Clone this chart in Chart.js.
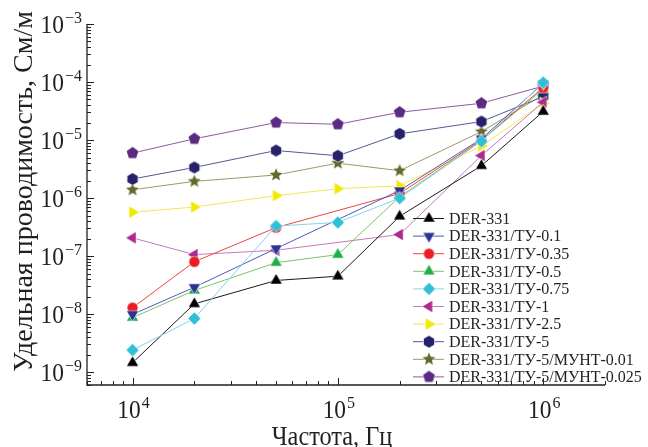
<!DOCTYPE html>
<html>
<head>
<meta charset="utf-8">
<script src="https://cdn.jsdelivr.net/npm/chart.js@4/dist/chart.umd.min.js"></script>
<style>
  html, body { margin: 0; padding: 0; background: #fff; }
  #wrap { width: 648px; height: 447px; }
</style>
</head>
<body>
<div id="wrap"><canvas id="c" width="648" height="447"></canvas></div>
<script>
'use strict';

// частоты, Гц
const frequencies = [1e4, 2e4, 5e4, 1e5, 2e5, 5e5, 1e6];

// удельная проводимость, См/м (null = нет точки)
const der331     = [1.45e-9, 1.5e-8, 3.8e-8, 4.5e-8, 4.85e-7, 3.6e-6, 3.1e-5];
const ty01       = [9.9e-9, 2.9e-8, 1.35e-7, null, 1.35e-6, 1.05e-5, 9.5e-5];
const ty035      = [1.29e-8, 8.0e-8, 3.1e-7, null, 1.2e-6, 1.0e-5, 8.0e-5];
const ty05       = [8.7e-9, 2.56e-8, 7.7e-8, 1.06e-7, 1.05e-6, 9.8e-6, 7.5e-5];
const ty075      = [2.4e-9, 8.4e-9, 3.3e-7, 3.8e-7, 1.0e-6, 9.5e-6, 9.8e-5];
const ty1        = [2.06e-7, 1.06e-7, 1.26e-7, null, 2.35e-7, 5.4e-6, 4.5e-5];
const ty25       = [5.7e-7, 7.0e-7, 1.1e-6, 1.45e-6, 1.63e-6, 7.9e-6, 4.3e-5];
const ty5        = [2.13e-6, 3.37e-6, 6.6e-6, 5.36e-6, 1.28e-5, 2.08e-5, 5.6e-5];
const ty5munt001 = [1.39e-6, 1.94e-6, 2.5e-6, 4.0e-6, 2.96e-6, 1.4e-5, 6.0e-5];
const ty5munt0025= [5.96e-6, 1.05e-5, 2.0e-5, 1.87e-5, 3.01e-5, 4.3e-5, 8.5e-5];

const seriesNames = [
  'DER-331', 'DER-331/ТУ-0.1', 'DER-331/ТУ-0.35', 'DER-331/ТУ-0.5', 'DER-331/ТУ-0.75',
  'DER-331/ТУ-1', 'DER-331/ТУ-2.5', 'DER-331/ТУ-5', 'DER-331/ТУ-5/МУНТ-0.01', 'DER-331/ТУ-5/МУНТ-0.025'
];
const seriesValues = [der331, ty01, ty035, ty05, ty075, ty1, ty25, ty5, ty5munt001, ty5munt0025];

// подписи делений: 10^n
const xTickExps = [4, 5, 6];
const yTickExps = [-9, -8, -7, -6, -5, -4, -3];

const xTitle = 'Частота, Гц';
const yTitle = 'Удельная проводимость, См/м';

/**
 * стиль серий: [маркер, цвет маркера, цвет линии, радиус]
 */
const styles = [
  ['triUp',    '#000000', '#1a1a1a', 6.5],
  ['triDown',  '#2a3593', '#4d5bb5', 6.5],
  ['circle',   '#ec1c24', '#f0443c', 5.2],
  ['triUp',    '#1fae4b', '#7cc46a', 6.5],
  ['diamond',  '#30c0d6', '#85d4e6', 6.2],
  ['triLeft',  '#ad2a8e', '#c878bd', 6.5],
  ['triRight', '#f2e900', '#f0e65c', 6.5],
  ['hexagon',  '#26216b', '#545795', 6],
  ['star',     '#66692c', '#9a9a66', 6.8],
  ['pentagon', '#5b2a82', '#8e5aa2', 6.2],
];

// маркеры рисуем в отдельных canvas
function polygon(g, cx, cy, r, n, startDeg) {
  for (let i = 0; i < n; i++) {
    const a = (startDeg + i * 360 / n) * Math.PI / 180;
    const px = cx + r * Math.cos(a), py = cy + r * Math.sin(a);
    if (i === 0) g.moveTo(px, py); else g.lineTo(px, py);
  }
  g.closePath();
}
function makeMarker(shape, color, r) {
  const s = Math.ceil(r * 2 + 4);
  const c = document.createElement('canvas');
  c.width = s; c.height = s;
  const g = c.getContext('2d');
  const cx = s / 2, cy = s / 2;
  g.beginPath();
  switch (shape) {
    case 'triUp': polygon(g, cx, cy, r, 3, -90); break;
    case 'triDown': polygon(g, cx, cy, r, 3, 90); break;
    case 'triLeft': polygon(g, cx, cy, r, 3, 180); break;
    case 'triRight': polygon(g, cx, cy, r, 3, 0); break;
    case 'diamond': polygon(g, cx, cy, r, 4, -90); break;
    case 'hexagon': polygon(g, cx, cy, r, 6, -90); break;
    case 'pentagon': polygon(g, cx, cy, r, 5, -90); break;
    case 'circle': g.arc(cx, cy, r, 0, Math.PI * 2); break;
    case 'star':
      for (let i = 0; i < 10; i++) {
        const a = (-90 + i * 36) * Math.PI / 180;
        const rr = i % 2 ? r * 0.45 : r;
        const px = cx + rr * Math.cos(a), py = cy + rr * Math.sin(a);
        if (i === 0) g.moveTo(px, py); else g.lineTo(px, py);
      }
      g.closePath();
      break;
  }
  g.strokeStyle = 'rgba(255,255,255,0.9)';
  g.lineWidth = 1.2;
  g.stroke();
  g.fillStyle = color;
  g.fill();
  return c;
}
const markers = styles.map(s => makeMarker(s[0], s[1], s[3]));

const datasets = seriesValues.map((vals, i) => ({
  label: seriesNames[i],
  data: frequencies.map((f, j) => ({ x: f, y: vals[j] })).filter(p => p.y !== null),
  borderColor: styles[i][2],
  backgroundColor: styles[i][1],
  borderWidth: 1,
  pointStyle: markers[i],
  pointRadius: 6,
  tension: 0,
  order: i === 4 ? -1 : 0,
}));

const SERIF = '"Liberation Serif", "DejaVu Serif", serif';
const SX = 0.9; // сжатие подписей осей по горизонтали

// 10^n подпись
function drawPow(ctx, exp, x, y, supDy, align) {
  const base = '10';
  const sup = exp < 0 ? '\u2212' + (-exp) : String(exp);
  ctx.font = '26px ' + SERIF;
  const wb = ctx.measureText(base).width * SX;
  ctx.font = '16px ' + SERIF;
  const ws = ctx.measureText(sup).width;
  const total = wb + ws + 1;
  const x0 = align === 'right' ? x - total : x - total / 2;
  ctx.textAlign = 'left';
  ctx.textBaseline = 'alphabetic';
  ctx.save();
  ctx.translate(x0, y);
  ctx.scale(SX, 1);
  ctx.font = '26px ' + SERIF;
  ctx.fillText(base, 0, 0);
  ctx.restore();
  ctx.font = '16px ' + SERIF;
  ctx.fillText(sup, x0 + wb + 1, y - supDy);
}

/**
 * оси: линии, засечки внутрь, подписи
 */
const axesPlugin = {
  id: 'axesPlugin',
  afterDatasetsDraw(chart) {
    const { ctx, chartArea: a, scales: { x, y } } = chart;
    ctx.save();
    ctx.strokeStyle = '#231f20';
    ctx.fillStyle = '#231f20';
    ctx.lineWidth = 1.3;
    ctx.beginPath();
    ctx.moveTo(a.left, a.top);
    ctx.lineTo(a.left, a.bottom);
    ctx.lineTo(a.right, a.bottom);
    ctx.stroke();

    ctx.lineWidth = 1;
    ctx.beginPath();
    for (let e = -10; e <= -3; e++) {
      for (let m = 1; m <= 9; m++) {
        const v = m * Math.pow(10, e);
        if (v < y.min * 0.999 || v > y.max * 1.001) continue;
        const py = Math.round(y.getPixelForValue(v)) + 0.5;
        ctx.moveTo(a.left, py);
        ctx.lineTo(a.left + (m === 1 ? 7 : 4), py);
      }
    }
    for (let e = 3; e <= 6; e++) {
      for (let m = 1; m <= 9; m++) {
        const v = m * Math.pow(10, e);
        if (v < x.min * 0.999 || v > x.max * 1.001) continue;
        const px = Math.round(x.getPixelForValue(v)) + 0.5;
        ctx.moveTo(px, a.bottom);
        ctx.lineTo(px, a.bottom - (m === 1 ? 7 : 4));
      }
    }
    ctx.stroke();

    yTickExps.forEach(e => drawPow(ctx, e, a.left - 5, y.getPixelForValue(Math.pow(10, e)) + 8.5, 9.5, 'right'));
    xTickExps.forEach(e => drawPow(ctx, e, x.getPixelForValue(Math.pow(10, e)) + 1, 418, 10, 'center'));

    // подпись оси X
    ctx.save();
    ctx.translate(332, 445);
    ctx.scale(SX, 1);
    ctx.font = '27px ' + SERIF;
    ctx.textAlign = 'center';
    ctx.textBaseline = 'alphabetic';
    ctx.fillText(xTitle, 0, 0);
    ctx.restore();

    // подпись оси Y
    ctx.translate(32, 191.5);
    ctx.rotate(-Math.PI / 2);
    ctx.font = '28px ' + SERIF;
    ctx.textAlign = 'center';
    ctx.textBaseline = 'alphabetic';
    ctx.fillText(yTitle, 0, 0);
    ctx.restore();
  }
};

/**
 * легенда справа внизу, без рамки
 */
const legendPlugin = {
  id: 'legendPlugin',
  afterDraw(chart) {
    const ctx = chart.ctx;
    ctx.save();
    chart.data.datasets.forEach((ds, i) => {
      const cy = 218.5 + i * 17.6;
      ctx.strokeStyle = ds.borderColor;
      ctx.lineWidth = 1;
      ctx.beginPath();
      ctx.moveTo(413, cy);
      ctx.lineTo(444, cy);
      ctx.stroke();
      const m = markers[i];
      ctx.drawImage(m, 429 - m.width / 2, cy - m.height / 2);
      ctx.fillStyle = '#231f20';
      ctx.font = '16px ' + SERIF;
      ctx.textAlign = 'left';
      ctx.textBaseline = 'middle';
      ctx.fillText(ds.label, 449, cy + 1);
    });
    ctx.restore();
  }
};

let ctx = document.getElementById('c');
let myChart = new Chart(ctx, {
  type: 'line',
  data: { datasets: datasets },
  options: {
    responsive: false,
    animation: false,
    layout: { padding: { left: 87, right: 43, top: 24, bottom: 62 } },
    scales: {
      x: { type: 'logarithmic', min: 6000, max: 2e6, display: false },
      y: { type: 'logarithmic', min: 6e-10, max: 1e-3, display: false },
    },
    plugins: { legend: { display: false }, tooltip: { enabled: false } },
  },
  plugins: [axesPlugin, legendPlugin],
});
</script>
</body>
</html>
